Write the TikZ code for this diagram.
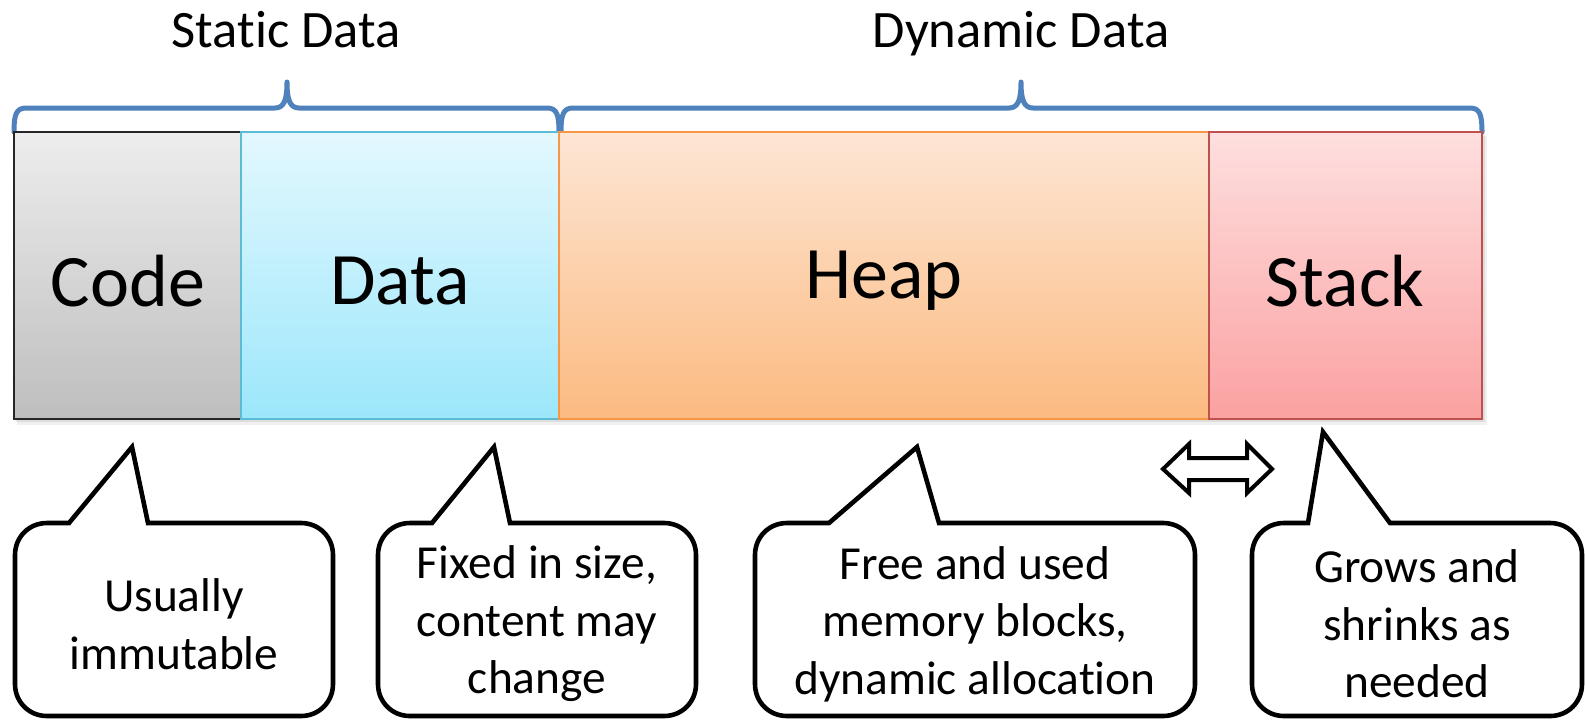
\documentclass[tikz,border=0pt]{standalone}
\usepackage{fontspec}
\setmainfont{Carlito}[Ligatures=NoCommon]

\definecolor{bracecol}{HTML}{4F81BD}
\definecolor{codetop}{HTML}{EDEDED}
\definecolor{codebot}{HTML}{BEBEBE}
\definecolor{codeline}{HTML}{262626}
\definecolor{datatop}{HTML}{E3F8FE}
\definecolor{databot}{HTML}{9CE7FB}
\definecolor{dataline}{HTML}{5BBCD6}
\definecolor{heaptop}{HTML}{FDE6D5}
\definecolor{heapbot}{HTML}{FBBA80}
\definecolor{heapline}{HTML}{F79646}
\definecolor{stacktop}{HTML}{FEDFDF}
\definecolor{stackbot}{HTML}{FBA1A1}
\definecolor{stackline}{HTML}{C0504D}

% speech bubble: left, right, top, bottom, pointer base left x, tip x, tip y, pointer base right x
\newcommand\speechbubble[8]{%
  \draw[bubble] (#5,#3) -- (#6,#7) -- (#8,#3) -- ({#2-32},#3)
    .. controls ({#2-14},#3) and (#2,{#3+14}) .. (#2,{#3+32})
    -- (#2,{#4-32}) .. controls (#2,{#4-14}) and ({#2-14},#4) .. ({#2-32},#4)
    -- ({#1+32},#4) .. controls ({#1+14},#4) and (#1,{#4-14}) .. (#1,{#4-32})
    -- (#1,{#3+32}) .. controls (#1,{#3+14}) and ({#1+14},#3) .. ({#1+32},#3)
    -- cycle;}

\tikzset{
  membox/.style={line width=0.8pt},
  seglabel/.style={font=\fontsize{37}{44}\selectfont, inner sep=0pt},
  headtext/.style={font=\fontsize{26.3}{31}\selectfont, anchor=base, inner sep=0pt},
  bubble/.style={draw=black, fill=white, line width=2.3pt, line join=miter},
  bubbletext/.style={align=center, font=\fontsize{23.7}{28.75}\selectfont, inner sep=0pt},
  brace/.style={draw=bracecol, line width=2.5pt, line cap=round, line join=round},
  dblarrow/.style={draw=black, fill=white, line width=2pt, line join=miter},
}

\begin{document}
\begin{tikzpicture}[x=0.5pt,y=-0.5pt]
\useasboundingbox (0,0) rectangle (1585,720);

% headings
\node[headtext] (static) at (286,47) {Static Data};
\node[headtext] (dynamic) at (1021,47) {Dynamic Data};

% braces
\draw[brace] (14,132) .. controls (14,115) and (16,108) .. (26,108) -- (275,108)
  .. controls (284,108) and (287,100) .. (287,82)
  .. controls (287,100) and (290,108) .. (299,108) -- (547,108)
  .. controls (557,108) and (559,115) .. (559,132);
\draw[brace] (561,132) .. controls (561,115) and (563,108) .. (573,108) -- (1009,108)
  .. controls (1018,108) and (1021,100) .. (1021,82)
  .. controls (1021,100) and (1024,108) .. (1033,108) -- (1470,108)
  .. controls (1480,108) and (1482,115) .. (1482,132);

% soft shadow under the memory row
\fill[black, opacity=0.06] (17,136) rectangle (1487,425);
\fill[black, opacity=0.08] (16,134) rectangle (1485,422);

% memory segments
\path[membox, draw=codeline, top color=codetop, bottom color=codebot] (14,132) rectangle (241,419);
\path[membox, draw=dataline, top color=datatop, bottom color=databot] (241,132) rectangle (559,419);
\path[membox, draw=heapline, top color=heaptop, bottom color=heapbot] (559,132) rectangle (1209,419);
\path[membox, draw=stackline, top color=stacktop, bottom color=stackbot] (1209,132) rectangle (1482,419);

\node[seglabel] (code) at (128,281) {Code};
\node[seglabel] (data) at (400,281) {Data};
\node[seglabel] (heap) at (884,281) {Heap};
\node[seglabel] (stack) at (1345,281) {Stack};

% growth arrow between heap and stack
\draw[dblarrow] (1163,469) -- (1189,444) -- (1189,458) -- (1247,458) -- (1247,444)
  -- (1272,469) -- (1247,493) -- (1247,480) -- (1189,480) -- (1189,493) -- cycle;

% callouts
\speechbubble{15}{333}{523}{716}{69}{132}{447}{148}
\speechbubble{378}{696}{523}{716}{432}{494}{447}{510}
\speechbubble{755}{1195}{523}{716}{829}{917}{447}{939}
\speechbubble{1252}{1582}{523}{716}{1308}{1323}{432}{1390}

\node[bubbletext] (note1) at (174,624) {Usually\\immutable};
\node[bubbletext] (note2) at (537,624) {Fixed in size,\\content may\\change};
\node[bubbletext] (note3) at (975,624) {Free and used\\memory blocks,\\dynamic allocation};
\node[bubbletext] (note4) at (1417,624) {Grows and\\shrinks as\\needed};
\end{tikzpicture}
\end{document}
